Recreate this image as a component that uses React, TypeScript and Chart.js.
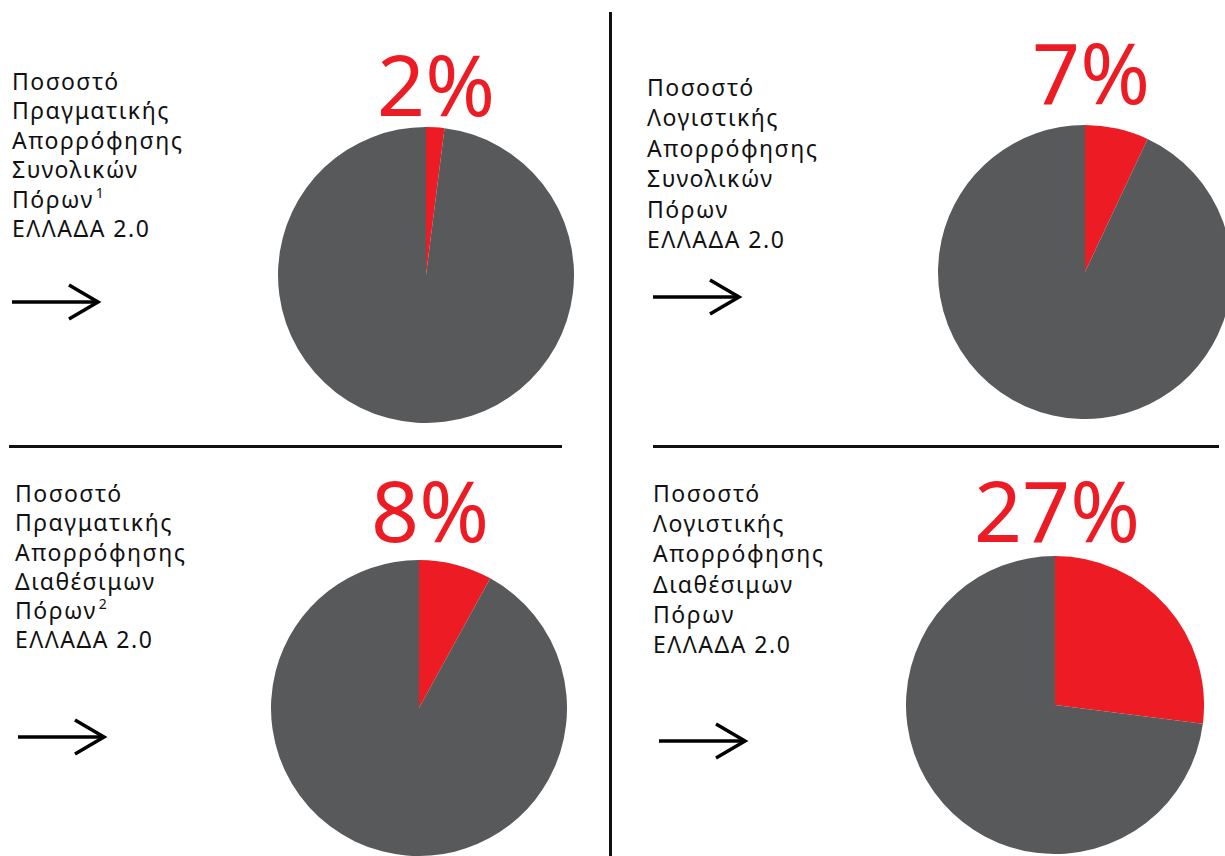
import React, { useEffect, useRef } from "react";
import { Chart, registerables } from "chart.js";

Chart.register(...registerables);

const sliceLabels = ["Απορρόφηση", "Υπόλοιπο"];
const absorbedValues = [2, 7, 8, 27];
const remainingValues = [98, 93, 92, 73];
const titleLines = [
  ["Ποσοστό", "Πραγματικής", "Απορρόφησης", "Συνολικών", "Πόρων", "ΕΛΛΑΔΑ 2.0"],
  ["Ποσοστό", "Λογιστικής", "Απορρόφησης", "Συνολικών", "Πόρων", "ΕΛΛΑΔΑ 2.0"],
  ["Ποσοστό", "Πραγματικής", "Απορρόφησης", "Διαθέσιμων", "Πόρων", "ΕΛΛΑΔΑ 2.0"],
  ["Ποσοστό", "Λογιστικής", "Απορρόφησης", "Διαθέσιμων", "Πόρων", "ΕΛΛΑΔΑ 2.0"],
];
const footnotes = ["1", "", "2", ""];

const RED = "#ED1C24";
const GREY = "#58595B";

// layout per panel
const panels = [
  { cx: 426, cy: 275, r: 148, textX: 12, textY: 67, lh: 29.4, arrowX: 12, arrowY: 302, pctX: 436, pctY: 34 },
  { cx: 1085, cy: 272, r: 147, textX: 647, textY: 72, lh: 30.4, arrowX: 653, arrowY: 297, pctX: 1091, pctY: 22 },
  { cx: 419, cy: 708, r: 148, textX: 15, textY: 479, lh: 29.3, arrowX: 18, arrowY: 737, pctX: 430, pctY: 460 },
  { cx: 1055, cy: 705, r: 149, textX: 653, textY: 478, lh: 30.2, arrowX: 659, arrowY: 741, pctX: 1057, pctY: 460 },
];

const FONT = "'Noto Sans', sans-serif";
const PCT_FONT = "'Noto Sans', sans-serif";

function Pie({ idx }: { idx: number }) {
  const ref = useRef<HTMLCanvasElement>(null);
  const p = panels[idx];
  useEffect(() => {
    if (!ref.current) return;
    const chart = new Chart(ref.current, {
      type: "pie",
      data: {
        labels: sliceLabels,
        datasets: [
          {
            data: [absorbedValues[idx], remainingValues[idx]],
            backgroundColor: [RED, GREY],
            borderWidth: 0,
            hoverOffset: 0,
            offset: 0,
          },
        ],
      },
      options: {
        responsive: false,
        animation: false,
        layout: { padding: 0 },
        plugins: { legend: { display: false }, tooltip: { enabled: false }, title: { display: false } },
      },
    });
    return () => chart.destroy();
  }, [idx]);
  return (
    <canvas
      ref={ref}
      width={p.r * 2}
      height={p.r * 2}
      style={{ position: "absolute", left: p.cx - p.r, top: p.cy - p.r, width: p.r * 2, height: p.r * 2 }}
    />
  );
}

function Arrow({ x, y }: { x: number; y: number }) {
  return (
    <svg
      width={100}
      height={50}
      style={{ position: "absolute", left: x - 2, top: y - 25, overflow: "visible" }}
    >
      <line x1={2} y1={25} x2={88} y2={25} stroke="#000" strokeWidth={3.5} />
      <polyline points="59,8 88,25 59,42" fill="none" stroke="#000" strokeWidth={3.5} />
    </svg>
  );
}

export default function App() {
  return (
    <div
      style={{
        position: "fixed",
        left: 0,
        top: 0,
        width: 1225,
        height: 856,
        overflow: "hidden",
        background: "#fff",
        fontFamily: FONT,
      }}
    >
      {/* dividers */}
      <div style={{ position: "absolute", left: 609, top: 12, width: 2.5, height: 844, background: "#111" }} />
      <div style={{ position: "absolute", left: 9, top: 445, width: 553, height: 2.5, background: "#111" }} />
      <div style={{ position: "absolute", left: 653, top: 445, width: 566, height: 2.5, background: "#111" }} />

      {panels.map((p, i) => (
        <React.Fragment key={i}>
          <Pie idx={i} />
          <div
            style={{
              position: "absolute",
              left: p.pctX - 150,
              top: p.pctY,
              width: 300,
              textAlign: "center",
              color: RED,
              fontFamily: PCT_FONT,
              fontSize: 84,
              lineHeight: "100px",
              fontWeight: 400,
            }}
          >
            {absorbedValues[i]}%
          </div>
          <div
            style={{
              position: "absolute",
              left: p.textX,
              top: p.textY,
              fontSize: 23,
              lineHeight: `${p.lh}px`,
              color: "#111",
              letterSpacing: 1.5,
              whiteSpace: "nowrap",
            }}
          >
            {titleLines[i].map((t, j) => (
              <div key={j} style={{ height: p.lh }}>
                {t}
                {j === 4 && footnotes[i] ? (
                  <span
                    style={{
                      fontSize: 14,
                      marginLeft: 2,
                      position: "relative",
                      top: -10,
                      lineHeight: 0,
                      display: "inline-block",
                    }}
                  >
                    {footnotes[i]}
                  </span>
                ) : null}
              </div>
            ))}
          </div>
          <Arrow x={p.arrowX} y={p.arrowY} />
        </React.Fragment>
      ))}
    </div>
  );
}
